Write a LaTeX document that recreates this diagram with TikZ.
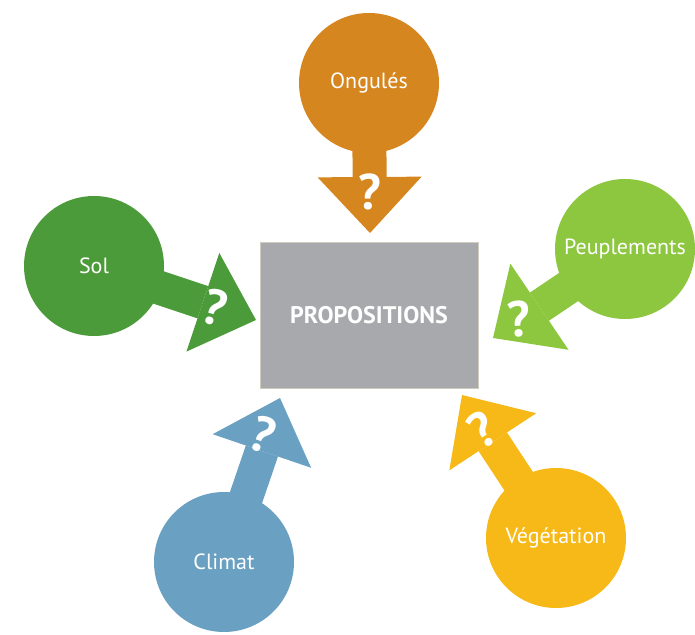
\documentclass[tikz,border=0pt]{standalone}
\usepackage{fontspec}
\setmainfont{PT Sans}
\usepackage{tikz}
\usetikzlibrary{arrows.meta}
\usetikzlibrary{positioning}

\definecolor{ongcol}{HTML}{D6861E}
\definecolor{solcol}{HTML}{4C9B3A}
\definecolor{peupcol}{HTML}{8DC63F}
\definecolor{climcol}{HTML}{6AA0C2}
\definecolor{vegcol}{HTML}{F6B917}
\definecolor{propgray}{HTML}{A7A9AC}
\definecolor{propedge}{HTML}{CFCBBE}

\begin{document}
\begin{tikzpicture}[x=1pt,y=1pt,
    big node/.style={circle,inner sep=0pt,minimum size=140pt,text=white,font=\fontsize{22}{26}\selectfont},
    prop node/.style={rectangle,fill=propgray,draw=propedge,line width=0.8pt,minimum width=218pt,minimum height=146pt,text=white,font=\bfseries\fontsize{24}{28}\selectfont},
    ask arrow/.style={line width=34pt,shorten <=-8pt,-{Triangle[length=56pt,width=104pt,line width=0pt]}},
    ask mark/.style={text=white,inner sep=0pt,font=\bfseries\fontsize{50}{54}\selectfont}]
  \useasboundingbox (0,0) rectangle (695,634);
  % centre
  \node[prop node] (prop) at (369,319) {PROPOSITIONS};
  % factors
  \node[big node,fill=ongcol] (ong) at (369,551) {Ongulés};
  \node[big node,fill=solcol] (sol) at (94,368) {Sol};
  \node[big node,fill=peupcol] (peup) at (625,385) {Peuplements};
  \node[big node,fill=climcol] (clim) at (224,72) {Climat};
  \node[big node,fill=vegcol] (veg) at (556,96) {Végétation};
  % arrow tips
  \coordinate (ongTip) at (370,401);
  \coordinate (solTip) at (256,314);
  \coordinate (peupTip) at (493,296);
  \coordinate (climTip) at (280,236);
  \coordinate (vegTip) at (462,239);
  \path[ask arrow] (ong) edge[ongcol] (ongTip);
  \path[ask arrow] (sol) edge[solcol] (solTip);
  \path[ask arrow] (peup) edge[peupcol] (peupTip);
  \path[ask arrow] (clim) edge[climcol] (climTip);
  \path[ask arrow] (veg) edge[vegcol] (vegTip);
  % question marks
  \node[ask mark] (ongAsk) at (370,442) {?};
  \node[ask mark,rotate=-15] (solAsk) at (215,327) {?};
  \node[ask mark,rotate=5] (peupAsk) at (519,315) {?};
  \node[ask mark,rotate=-19] (climAsk) at (263,199) {?};
  \node[ask mark,rotate=33] (vegAsk) at (482,204) {?};
\end{tikzpicture}
\end{document}
